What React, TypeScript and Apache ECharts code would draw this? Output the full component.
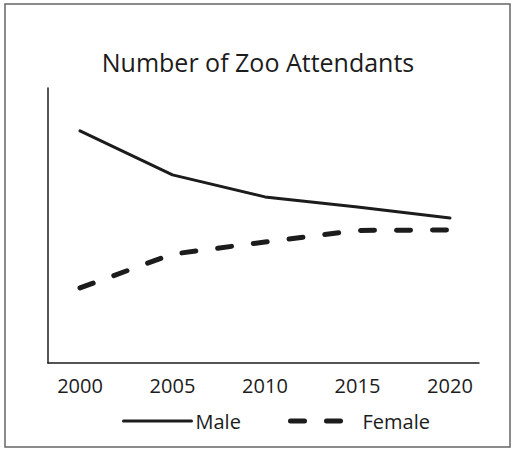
import React, { useEffect, useRef } from "react";
import * as echarts from "echarts";

const years = [2000, 2005, 2010, 2015, 2020];
const maleValues = [84.4, 68.4, 60.4, 56.7, 52.7];
const femaleValues = [27.3, 39.6, 44.0, 48.2, 48.4];
const xTickLabels = [2000, 2005, 2010, 2015, 2020];
const seriesNames = ["Male", "Female"];
const titleText = "Number of Zoo Attendants";

const FONT = "Open Sans";
const INK = "#1c1c1c";

export default function App() {
  const ref = useRef<HTMLDivElement>(null);
  useEffect(() => {
    document.body.style.margin = "0";
    const chart = echarts.init(ref.current!, null, { renderer: "svg" });
    chart.setOption({
      animation: false,
      backgroundColor: "#ffffff",
      title: {
        text: titleText,
        left: "center",
        top: 44,
        textStyle: { fontFamily: FONT, fontSize: 25, fontWeight: "normal", color: INK },
      },
      graphic: [
        {
          type: "rect",
          shape: { x: 5, y: 4, width: 505, height: 443 },
          style: { fill: "none", stroke: "#666", lineWidth: 1.5 },
          silent: true,
        },
      ],
      grid: { left: 48, right: 37, top: 88, bottom: 88 },
      xAxis: {
        type: "value",
        min: 1998.27,
        max: 2021.57,
        axisLine: { show: true, lineStyle: { color: INK, width: 1.5 } },
        axisTick: { show: false },
        splitLine: { show: false },
        axisLabel: {
          customValues: xTickLabels,
          margin: 12,
          fontFamily: FONT,
          fontSize: 20,
          color: INK,
          formatter: (v: number) => String(v),
        },
      },
      yAxis: {
        type: "value",
        min: 0,
        max: 100,
        axisLine: { show: true, lineStyle: { color: INK, width: 1.5 } },
        axisTick: { show: false },
        splitLine: { show: false },
        axisLabel: { show: false },
      },
      legend: [
        {
          data: [seriesNames[0]],
          left: 117,
          top: 406,
          itemWidth: 68,
          itemHeight: 14,
          itemStyle: { opacity: 0 },
          lineStyle: { width: 3, cap: "round" },
          textStyle: { fontFamily: FONT, fontSize: 20, color: INK, padding: [0, 0, 0, -1] },
        },
        {
          data: [seriesNames[1]],
          left: 283,
          top: 406,
          itemWidth: 57,
          itemHeight: 14,
          itemStyle: { opacity: 0 },
          lineStyle: { width: 5, type: [14, 22], cap: "round" },
          textStyle: { fontFamily: FONT, fontSize: 20, color: INK, padding: [0, 0, 0, 10] },
        },
      ],
      series: [
        {
          name: seriesNames[0],
          type: "line",
          data: years.map((y, i) => [y, maleValues[i]]),
          symbol: "none",
          lineStyle: { color: INK, width: 3, cap: "round" },
          itemStyle: { color: INK },
        },
        {
          name: seriesNames[1],
          type: "line",
          data: years.map((y, i) => [y, femaleValues[i]]),
          symbol: "none",
          lineStyle: { color: INK, width: 5, type: [14, 22], cap: "round" },
          itemStyle: { color: INK },
        },
      ],
    });
    return () => chart.dispose();
  }, []);
  return <div ref={ref} style={{ width: 516, height: 451 }} />;
}
